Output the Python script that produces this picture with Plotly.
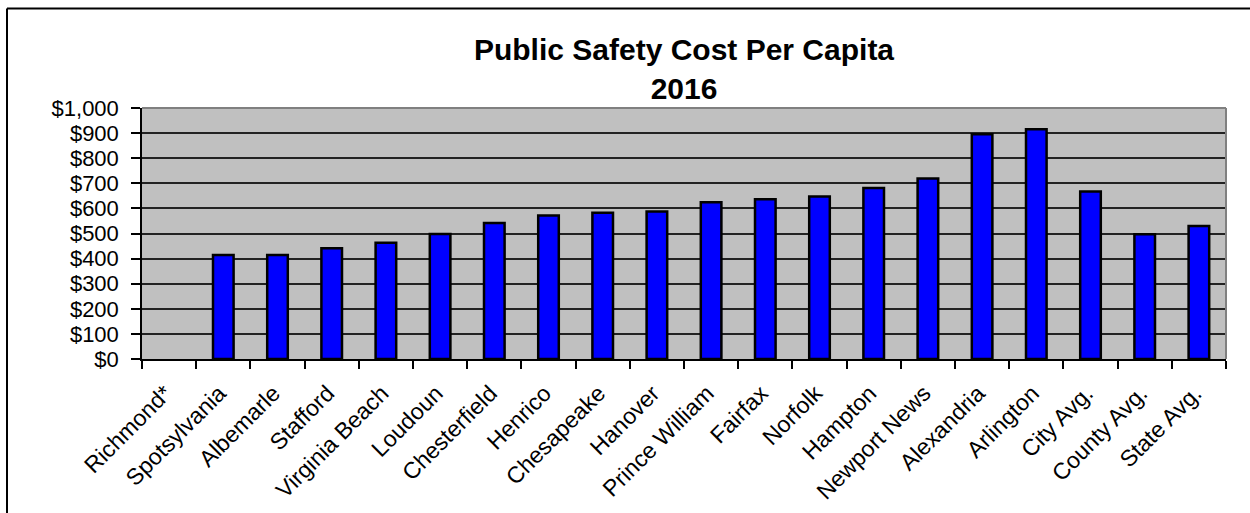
import plotly.graph_objects as go

categories = ["Richmond*", "Spotsylvania", "Albemarle", "Stafford", "Virginia Beach",
              "Loudoun", "Chesterfield", "Henrico", "Chesapeake", "Hanover",
              "Prince William", "Fairfax", "Norfolk", "Hampton", "Newport News",
              "Alexandria", "Arlington", "City Avg.", "County Avg.", "State Avg."]
values = [None, 414, 414, 441, 463, 498, 542, 572, 583, 588,
          625, 636, 647, 681, 719, 895, 915, 667, 497, 530]
y_ticks = [0, 100, 200, 300, 400, 500, 600, 700, 800, 900, 1000]

W, H = 1250, 513
L, R, T, B = 142, 24, 108, 154
pw, ph = W - L - R, H - T - B

def px_x(p):
    return (p - L) / pw

def px_y(p):
    return (H - B - p) / ph

fig = go.Figure()
fig.add_trace(go.Bar(
    x=categories, y=values,
    marker=dict(color="#0000ff", line=dict(color="#000000", width=2.5)),
    width=0.38,
    hoverinfo="skip",
))

font_family = "Liberation Sans, Arial, sans-serif"

fig.update_layout(
    width=W, height=H,
    margin=dict(l=L, r=R, t=T, b=B, pad=0, autoexpand=False),
    paper_bgcolor="#ffffff",
    plot_bgcolor="#c0c0c0",
    showlegend=False,
    font=dict(family=font_family, color="#000000"),
    title=dict(
        text="<b>Public Safety Cost Per Capita<br>2016</b>",
        x=0.5, xanchor="center", xref="paper",
        y=1 - 60 / H, yanchor="top",
        font=dict(size=30, family=font_family, color="#000000"),
    ),
    xaxis=dict(
        automargin=False,
        tickangle=-45,
        tickfont=dict(size=23, family=font_family, color="#000000"),
        showline=True, linecolor="#000000", linewidth=1.5,
        ticks="outside", tickson="boundaries", ticklen=8, tickcolor="#000000", tickwidth=1.5,
        ticklabelshift=-4, ticklabelstandoff=10,
        showgrid=False,
        range=[-0.5, len(categories) - 0.5],
    ),
    yaxis=dict(
        automargin=False,
        range=[0, 1000],
        tickvals=y_ticks,
        ticktext=["$" + format(v, ",") for v in y_ticks],
        tickfont=dict(size=22, family=font_family, color="#000000"),
        showline=True, linecolor="#000000", linewidth=1.5,
        ticks="outside", ticklen=9, tickcolor="#000000", tickwidth=1.5,
        ticklabelstandoff=8,
        showgrid=True, gridcolor="#222222", gridwidth=1.5,
        zeroline=False,
    ),
    shapes=[
        dict(type="line", xref="paper", yref="paper", x0=0, x1=1, y0=1, y1=1,
             line=dict(color="#808080", width=2)),
        dict(type="line", xref="paper", yref="paper", x0=1, x1=1, y0=0, y1=1,
             line=dict(color="#808080", width=2)),
        dict(type="line", xref="paper", yref="paper", x0=px_x(7), x1=px_x(1260),
             y0=px_y(8.5), y1=px_y(8.5), line=dict(color="#000000", width=2)),
        dict(type="line", xref="paper", yref="paper", x0=px_x(7), x1=px_x(7),
             y0=px_y(8.5), y1=px_y(530), line=dict(color="#000000", width=2)),
    ],
)

fig.write_html("out.html",
               config={"displayModeBar": False},
               post_script="document.body.style.margin='0';document.body.style.overflow='hidden';")
